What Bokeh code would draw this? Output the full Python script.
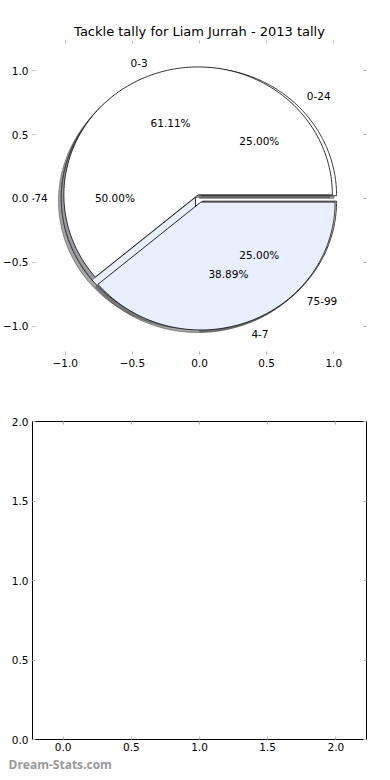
import numpy as np
from bokeh.plotting import figure
from bokeh.layouts import column
from bokeh.models import (Range1d, FixedTicker, LinearAxis, Title, Label,
                          ColumnDataSource, CustomJSTickFormatter)
from bokeh.core.properties import value
from bokeh.embed import file_html
from bokeh.resources import INLINE

# ---------------- data ----------------
TITLE = "Tackle tally for Liam Jurrah - 2013 tally"
# pie drawn on top
tackle_labels = ["0-3", "4-7"]
tackle_values = [61.11, 38.89]
# pie drawn underneath
pct_labels = ["0-24", "50-74", "75-99"]
pct_values = [25.0, 50.0, 25.0]

top_ticks = [-1.0, -0.5, 0.0, 0.5, 1.0]
top_tick_labels = ["\u22121.0", "\u22120.5", "0.0", "0.5", "1.0"]
bottom_ticks = [0.0, 0.5, 1.0, 1.5, 2.0]
bottom_tick_labels = ["0.0", "0.5", "1.0", "1.5", "2.0"]
WATERMARK = "Dream-Stats.com"

# ---------------- style ----------------
EXPLODE = 0.03
SHADOW_OFF = (-0.02, -0.02)
PIE_COLORS = ["#ffffff", "#e9effc"]
FONT = "DejaVu Sans"
FS = "10.5px"
TICK_GRAY = "#b8b8b8"


def pie_geometry(values, labels):
    total = float(sum(values))
    start = 0.0
    g = dict(xs=[], ys=[], sxs=[], sys=[], color=[], lx=[], ly=[], ltxt=[],
             lalign=[], px=[], py=[], ptxt=[])
    for i, (v, lab) in enumerate(zip(values, labels)):
        frac = v / total
        t1, t2 = start, start + 360.0 * frac
        mid = np.deg2rad((t1 + t2) / 2.0)
        cx, cy = EXPLODE * np.cos(mid), EXPLODE * np.sin(mid)
        t = np.linspace(np.deg2rad(t1), np.deg2rad(t2), 160)
        xs = np.concatenate([[cx], cx + np.cos(t)])
        ys = np.concatenate([[cy], cy + np.sin(t)])
        g["xs"].append(xs.tolist())
        g["ys"].append(ys.tolist())
        g["sxs"].append((xs + SHADOW_OFF[0]).tolist())
        g["sys"].append((ys + SHADOW_OFF[1]).tolist())
        g["color"].append(PIE_COLORS[i % len(PIE_COLORS)])
        lx, ly = cx + 1.1 * np.cos(mid), cy + 1.1 * np.sin(mid)
        g["lx"].append(float(lx))
        g["ly"].append(float(ly))
        g["ltxt"].append(lab)
        g["lalign"].append("left" if lx > 0 else "right")
        g["px"].append(float(cx + 0.6 * np.cos(mid)))
        g["py"].append(float(cy + 0.6 * np.sin(mid)))
        g["ptxt"].append("%.2f%%" % (100.0 * frac))
        start = t2
    return g


def fmt(labels):
    return CustomJSTickFormatter(args=dict(labels=labels),
                                 code="return labels[index];")


def blank():
    return CustomJSTickFormatter(code="return '';")


def style_axis(ax, show_labels, line_color=None):
    ax.axis_line_color = line_color
    ax.major_tick_line_color = TICK_GRAY
    ax.major_tick_line_width = 1
    ax.major_tick_in = 3
    ax.major_tick_out = 0
    ax.minor_tick_line_color = None
    ax.major_label_text_font = FONT
    ax.major_label_text_font_size = FS if show_labels else "0px"
    ax.major_label_text_color = "black"
    ax.major_label_standoff = 4 if show_labels else 0


# ---------------- top: pie ----------------
p1 = figure(width=374, height=395,
            x_range=Range1d(-1.244, 1.244), y_range=Range1d(-1.22, 1.235),
            output_backend="svg", toolbar_location=None,
            x_axis_location=None, y_axis_location=None,
            min_border_left=0, min_border_right=8,
            min_border_top=40, min_border_bottom=41)
p1.grid.visible = False
p1.outline_line_color = None
p1.background_fill_color = "white"
p1.border_fill_color = "white"
p1.title = Title(text=TITLE, align="center", text_font=FONT,
                 text_font_size="13px", text_font_style="normal",
                 text_color="black", standoff=4)

for loc, show in (("below", True), ("left", True), ("above", False), ("right", False)):
    ax = LinearAxis(ticker=FixedTicker(ticks=top_ticks),
                    formatter=fmt(top_tick_labels) if show else blank())
    style_axis(ax, show)
    p1.add_layout(ax, loc)

geo_b = pie_geometry(pct_values, pct_labels)
geo_a = pie_geometry(tackle_values, tackle_labels)

for geo in (geo_b, geo_a):
    src = ColumnDataSource({k: geo[k] for k in ("xs", "ys", "sxs", "sys", "color")})
    p1.patches("sxs", "sys", source=src, fill_color="#4d4d4d", fill_alpha=0.5,
               line_color="#4d4d4d", line_alpha=0.6, line_width=1)
    p1.patches("xs", "ys", source=src, fill_color="color", line_color="black",
               line_width=0.8)

# labels as annotations (not clipped to the frame, like matplotlib texts)
for geo in (geo_b, geo_a):
    for lx, ly, lt, la in zip(geo["lx"], geo["ly"], geo["ltxt"], geo["lalign"]):
        p1.add_layout(Label(x=lx, y=ly, text=lt, text_align=la,
                            text_baseline="middle", text_font=FONT,
                            text_font_size=FS, text_color="black"))
    for px, py, pt in zip(geo["px"], geo["py"], geo["ptxt"]):
        p1.add_layout(Label(x=px, y=py, text=pt, text_align="center",
                            text_baseline="middle", text_font=FONT,
                            text_font_size=FS, text_color="black"))

# ---------------- bottom: empty axes ----------------
p2 = figure(width=374, height=377,
            x_range=Range1d(-0.225, 2.225), y_range=Range1d(0.0, 2.0),
            output_backend="svg", toolbar_location=None,
            x_axis_location=None, y_axis_location=None,
            min_border_left=0, min_border_right=8,
            min_border_top=26, min_border_bottom=0)
p2.grid.visible = False
p2.outline_line_color = "black"
p2.outline_line_width = 1
p2.border_fill_color = "white"
for loc, show, ticks, labels in (("below", True, bottom_ticks, bottom_tick_labels),
                                 ("left", True, bottom_ticks, bottom_tick_labels),
                                 ("above", False, bottom_ticks, None),
                                 ("right", False, bottom_ticks, None)):
    ax = LinearAxis(ticker=FixedTicker(ticks=ticks),
                    formatter=fmt(labels) if show else blank())
    style_axis(ax, show, line_color="black")
    if loc == "below":
        ax.major_label_standoff = 3
    p2.add_layout(ax, loc)

p2.add_layout(Title(text=WATERMARK, align="left", offset=-24,
                    text_font="Open Sans", text_font_style="bold",
                    text_font_size="12px", text_color="#999999",
                    standoff=0), "below")

layout = column(p1, p2, spacing=0)
open("out.html", "w").write(file_html(layout, INLINE))
